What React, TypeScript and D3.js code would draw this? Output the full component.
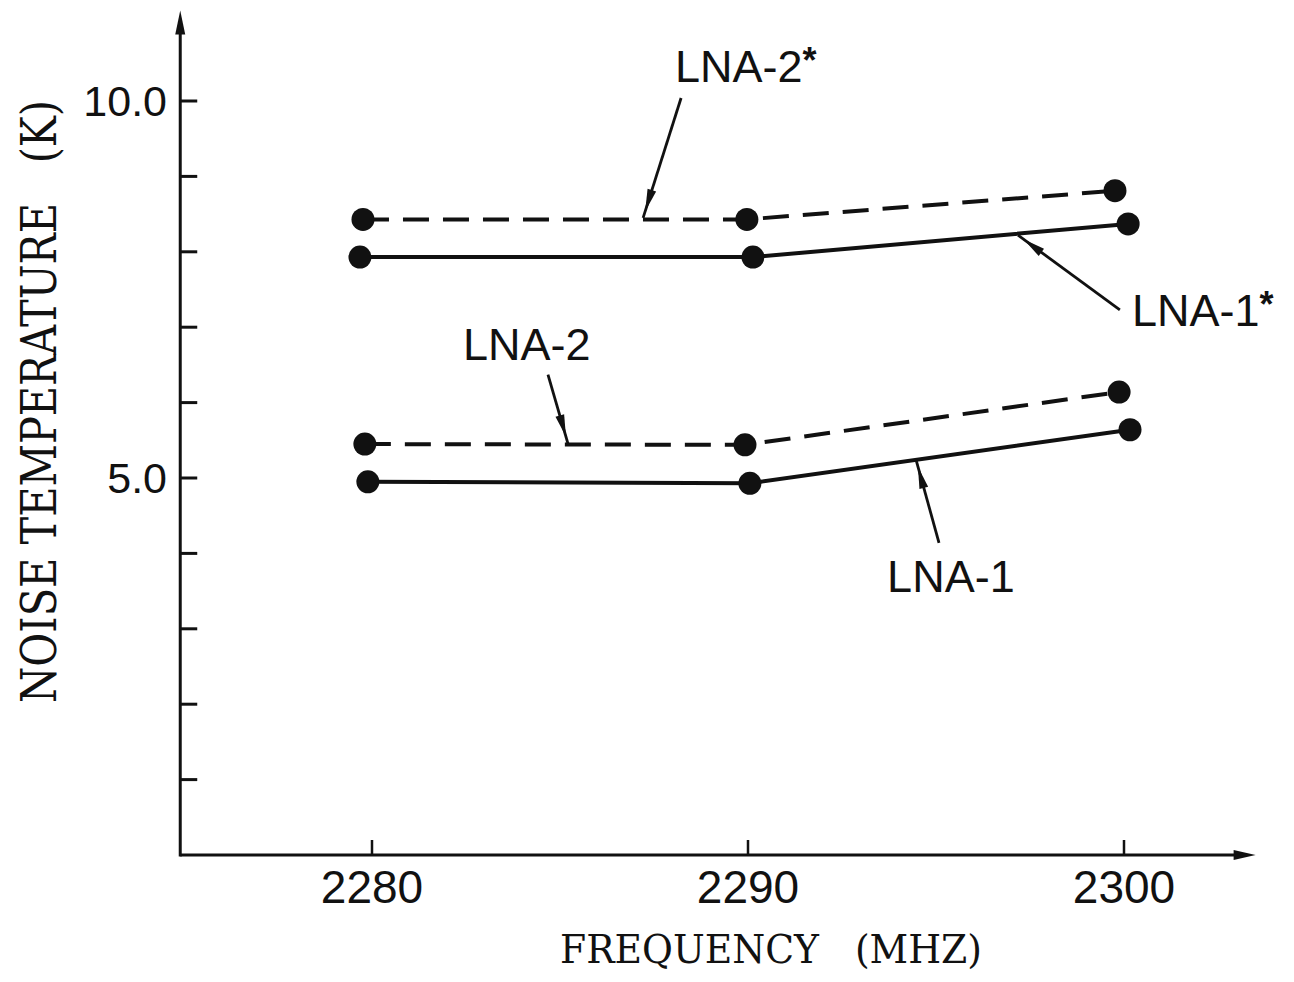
import React, { useEffect, useRef } from 'react';
import { scaleLinear, select, line, range } from 'd3';

// frequency (MHz) / noise temperature (K)
const lna2StarFreq = [2279.76, 2289.97, 2299.76];
const lna2StarTemp = [8.43, 8.43, 8.81];
const lna1StarFreq = [2279.68, 2290.13, 2300.11];
const lna1StarTemp = [7.93, 7.93, 8.37];
const lna2Freq = [2279.81, 2289.92, 2299.87];
const lna2Temp = [5.45, 5.44, 6.14];
const lna1Freq = [2279.89, 2290.05, 2300.16];
const lna1Temp = [4.95, 4.93, 5.64];

const xTicks = [2280, 2290, 2300];
const yTickLabels = ['5.0', '10.0'];

// label text, label position, leader from -> to (data units)
const noteNames = ['LNA-2*', 'LNA-1*', 'LNA-2', 'LNA-1'];
const noteText = [[2288.06, 10.46], [2300.21, 7.23], [2282.42, 6.78], [2293.7, 3.7]];
const noteFrom = [[2288.22, 10.04], [2299.89, 7.23], [2284.68, 6.37], [2295.08, 4.14]];
const noteTo = [[2287.21, 8.45], [2297.18, 8.22], [2285.21, 5.46], [2294.47, 5.24]];

function App() {
  const svgRef = useRef(null);
  const width = 1294, height = 982;

  useEffect(() => {
    const svg = select(svgRef.current);
    svg.selectAll('*').remove();

    const x = scaleLinear().domain([2280, 2300]).range([372, 1124]);
    const y = scaleLinear().domain([0, 10]).range([855, 101]);
    const xLo = 2274.9, xHi = 2303.5, yHi = 11.2;
    const ink = '#111';
    const sans = '"Liberation Sans", Arial, sans-serif';
    const serif = '"DejaVu Serif", "Liberation Serif", serif';

    // axes
    svg.append('line')
      .attr('x1', x(xLo)).attr('y1', y(0)).attr('x2', x(xHi) - 14).attr('y2', y(0))
      .attr('stroke', ink).attr('stroke-width', 3);
    svg.append('path')
      .attr('d', `M${x(xHi)},${y(0)} l-22,-5 l0,10 z`)
      .attr('fill', ink);
    svg.append('line')
      .attr('x1', x(xLo)).attr('y1', y(0) + 1.5).attr('x2', x(xLo)).attr('y2', y(yHi) + 14)
      .attr('stroke', ink).attr('stroke-width', 3);
    svg.append('path')
      .attr('d', `M${x(xLo)},${y(yHi)} l-5,24 l10,0 z`)
      .attr('fill', ink);

    // y ticks
    svg.selectAll('.ytick').data(range(1, 11)).enter().append('line')
      .attr('x1', x(xLo)).attr('x2', x(xLo) + 17)
      .attr('y1', d => y(d)).attr('y2', d => y(d))
      .attr('stroke', ink).attr('stroke-width', 3);
    svg.selectAll('.ylab').data(yTickLabels).enter().append('text')
      .attr('x', 167).attr('y', d => y(+d))
      .attr('text-anchor', 'end').attr('dominant-baseline', 'central')
      .attr('font-family', sans).attr('font-size', 43).attr('fill', ink)
      .text(d => d);

    // x ticks
    svg.selectAll('.xtick').data(xTicks).enter().append('line')
      .attr('x1', d => x(d)).attr('x2', d => x(d))
      .attr('y1', y(0)).attr('y2', y(0) - 15)
      .attr('stroke', ink).attr('stroke-width', 2.5);
    svg.selectAll('.xlab').data(xTicks).enter().append('text')
      .attr('x', d => x(d)).attr('y', 887)
      .attr('text-anchor', 'middle').attr('dominant-baseline', 'central')
      .attr('font-family', sans).attr('font-size', 46).attr('fill', ink)
      .text(d => d);

    // axis titles (typewriter-ish serif, wide gap before the unit)
    svg.append('text')
      .attr('x', 560).attr('y', 963)
      .attr('textLength', 422).attr('lengthAdjust', 'spacingAndGlyphs')
      .attr('font-family', serif).attr('font-size', 39).attr('fill', ink)
      .style('white-space', 'pre')
      .text('FREQUENCY   (MHZ)');
    svg.append('text')
      .attr('transform', 'translate(56,703) rotate(-90)')
      .attr('textLength', 603).attr('lengthAdjust', 'spacingAndGlyphs')
      .attr('font-family', serif).attr('font-size', 48).attr('fill', ink)
      .style('white-space', 'pre')
      .text('NOISE TEMPERATURE   (K)');

    // series
    const series = [
      { f: lna2StarFreq, t: lna2StarTemp, dash: '26 14' },
      { f: lna1StarFreq, t: lna1StarTemp, dash: null },
      { f: lna2Freq, t: lna2Temp, dash: '26 14' },
      { f: lna1Freq, t: lna1Temp, dash: null },
    ];
    series.forEach(s => {
      const pts = s.f.map((f, i) => [x(f), y(s.t[i])] as [number, number]);
      const p = svg.append('path')
        .attr('d', line()(pts))
        .attr('fill', 'none').attr('stroke', ink).attr('stroke-width', 4);
      if (s.dash) p.attr('stroke-dasharray', s.dash);
      svg.selectAll(null).data(pts).enter().append('circle')
        .attr('cx', d => d[0]).attr('cy', d => d[1]).attr('r', 11.5)
        .attr('fill', ink);
    });

    // labels with leader arrows
    noteNames.forEach((name, i) => {
      const x1 = x(noteFrom[i][0]), y1 = y(noteFrom[i][1]);
      const x2 = x(noteTo[i][0]), y2 = y(noteTo[i][1]);
      svg.append('line')
        .attr('x1', x1).attr('y1', y1).attr('x2', x2).attr('y2', y2)
        .attr('stroke', ink).attr('stroke-width', 2.8);
      const len = Math.hypot(x2 - x1, y2 - y1);
      const ux = (x2 - x1) / len, uy = (y2 - y1) / len;
      const tx = x2 - ux * 7, ty = y2 - uy * 7;
      const bx = tx - ux * 22, by = ty - uy * 22;
      svg.append('path')
        .attr('d', `M${tx},${ty} L${bx - uy * 4.5},${by + ux * 4.5} L${bx + uy * 4.5},${by - ux * 4.5} Z`)
        .attr('fill', ink);

      const star = name.endsWith('*');
      const t = svg.append('text')
        .attr('x', x(noteText[i][0])).attr('y', y(noteText[i][1]))
        .attr('dominant-baseline', 'central')
        .attr('font-family', sans).attr('font-size', 45).attr('fill', ink);
      t.append('tspan').text(star ? name.slice(0, -1) : name);
      if (star) {
        t.append('tspan').attr('font-size', 36).attr('font-weight', 'bold').attr('dy', -6).text('*');
      }
    });
  }, []);

  return (
    <div style={{ position: 'absolute', left: 0, top: 0 }}>
      <svg ref={svgRef} width={width} height={height} style={{ display: 'block', background: '#fff' }}></svg>
    </div>
  );
}

export default App;
